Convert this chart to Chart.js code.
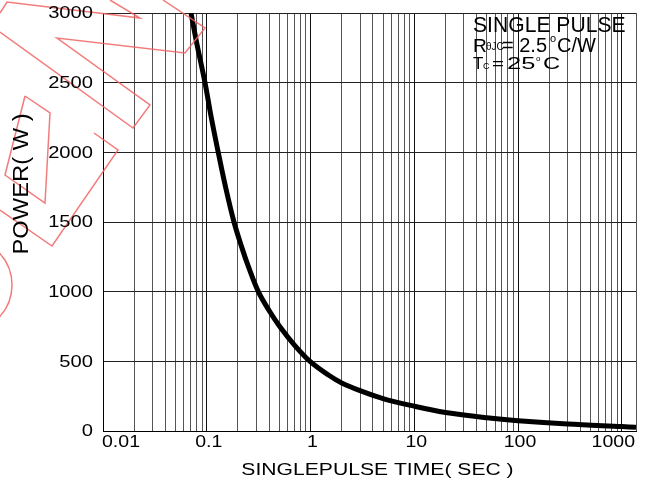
<!DOCTYPE html>
<html>
<head>
<meta charset="utf-8">
<script src="https://cdn.jsdelivr.net/npm/chart.js@4/dist/chart.umd.min.js"></script>
<style>
  html, body { margin: 0; padding: 0; background: #fff; }
  #chart { display: block; }
</style>
</head>
<body>
<canvas id="chart" width="650" height="481"></canvas>
<script>
// single pulse time (s) vs peak power (W)
const timeSec = [0.0705, 0.08, 0.0962, 0.11, 0.129, 0.15, 0.183, 0.22, 0.25, 0.314, 0.4, 0.505, 0.7, 0.989, 1.5, 2, 3, 5, 10, 20, 50, 100, 300, 1000, 1370];
const powerW  = [3000, 2785, 2500, 2258, 2000, 1768, 1500, 1307, 1187, 1000, 863, 750, 617, 500, 400, 345, 290, 233, 178, 133, 95, 74, 50, 32, 27];

const xMin = 0.01, xMax = 1370;
const xTickValues = [0.01, 0.1, 1, 10, 100, 1000];
const xTickLabels = ["0.01", "0.1", "1", "10", "100", "1000"];
const yTickValues = [0, 500, 1000, 1500, 2000, 2500, 3000];
const yTickLabels = ["0", "500", "1000", "1500", "2000", "2500", "3000"];

const FONT = '"Liberation Sans", Arial, sans-serif';

// log grid: 1..9 in every decade, plus the right edge
function logGrid() {
  const t = [];
  for (let e = -2; e <= 3; e++) {
    for (let m = 1; m <= 9; m++) {
      const v = +(m * Math.pow(10, e)).toPrecision(3);
      if (v <= xMax) t.push(v);
    }
  }
  t.push(xMax);
  return t;
}

function txt(ctx, s, x, y, size, align, sx, base) {
  ctx.save();
  ctx.translate(x, y);
  ctx.scale(sx, 1);
  ctx.font = size + "px " + FONT;
  ctx.textAlign = align;
  ctx.textBaseline = base || "middle";
  ctx.fillStyle = "#000";
  ctx.fillText(s, 0, 0);
  ctx.restore();
}

// faint logo watermark in the top left corner
function drawWatermark(ctx) {
  ctx.save();
  ctx.strokeStyle = "rgba(240,100,100,0.85)";
  ctx.lineWidth = 1.5;
  const paths = [
    [[0,13],[7,2],[140,18],[110,0]],
    [[163,0],[205,28],[185,53],[57,38],[150,105],[133,128],[0,32]],
    [[25,96],[50,113],[45,203],[5,175],[25,96]],
    [[94,133],[118,150],[52,246],[0,210]]
  ];
  paths.forEach(p => {
    ctx.beginPath();
    ctx.moveTo(p[0][0], p[0][1]);
    for (let i = 1; i < p.length; i++) ctx.lineTo(p[i][0], p[i][1]);
    ctx.stroke();
  });
  ctx.beginPath();
  ctx.arc(-35, 285, 47, -Math.PI / 2, Math.PI / 2);
  ctx.stroke();
  ctx.restore();
}

const labelsPlugin = {
  id: "labels",
  afterDraw(chart) {
    const ctx = chart.ctx;
    const xs = chart.scales.x, ys = chart.scales.y;
    const area = chart.chartArea;

    drawWatermark(ctx);

    yTickValues.forEach((v, i) => {
      txt(ctx, yTickLabels[i], area.left - 10, ys.getPixelForValue(v) + 1, 16, "right", 1.26);
    });
    const last = xTickValues.length - 1;
    xTickValues.forEach((v, i) => {
      const px = xs.getPixelForValue(v);
      if (i === 0) txt(ctx, xTickLabels[i], area.left - 1, 443, 16, "left", 1.22);
      else if (i === last) txt(ctx, xTickLabels[i], area.right - 1, 443, 16, "right", 1.22);
      else txt(ctx, xTickLabels[i], px + 2, 443, 16, "center", 1.22);
    });

    txt(ctx, "SINGLEPULSE TIME( SEC )", (area.left + area.right) / 2 + 8, 471, 16, "center", 1.32);

    ctx.save();
    ctx.translate(22, 184);
    ctx.rotate(-Math.PI / 2);
    txt(ctx, "POWER( W )", 0, 0, 22, "center", 1.08);
    ctx.restore();

    // condition note, top right
    txt(ctx, "SINGLE PULSE", 473, 32, 22, "left", 0.96, "alphabetic");
    txt(ctx, "R", 473, 51.5, 19, "left", 1, "alphabetic");
    txt(ctx, "θJC", 486, 50, 10, "left", 1, "alphabetic");
    txt(ctx, "= 2.5", 502, 51.5, 20, "left", 1, "alphabetic");
    txt(ctx, "o", 550, 42, 11, "left", 1, "alphabetic");
    txt(ctx, "C/W", 557, 51.5, 20, "left", 1, "alphabetic");
    txt(ctx, "T", 473, 69, 17, "left", 1, "alphabetic");
    txt(ctx, "C", 483, 69, 9, "left", 1, "alphabetic");
    txt(ctx, "=", 492, 69, 17, "left", 1.2, "alphabetic");
    txt(ctx, "25", 507, 69, 17, "left", 1.5, "alphabetic");
    txt(ctx, "o", 536, 61, 8, "left", 1, "alphabetic");
    txt(ctx, "C", 543, 69, 17, "left", 1.4, "alphabetic");
  }
};

new Chart(document.getElementById("chart"), {
  type: "line",
  data: {
    datasets: [{
      data: timeSec.map((t, i) => ({ x: t, y: powerW[i] })),
      borderColor: "#000",
      borderWidth: 5,
      pointRadius: 0,
      fill: false,
      tension: 0.35
    }]
  },
  options: {
    responsive: false,
    animation: false,
    layout: { padding: { top: 13, right: 14, left: 0, bottom: 0 } },
    plugins: { legend: { display: false }, tooltip: { enabled: false } },
    scales: {
      x: {
        type: "logarithmic",
        min: xMin,
        max: xMax,
        afterBuildTicks(s) { s.ticks = logGrid().map(v => ({ value: v })); },
        afterFit(s) { s.height = 50; },
        ticks: { display: false },
        grid: {
          drawTicks: false,
          color: c => {
            const v = c.tick && c.tick.value;
            const e = Math.log10(v);
            return Math.abs(e - Math.round(e)) < 1e-6 ? "#111" : "#555";
          },
          lineWidth: 1
        },
        border: { color: "#000", width: 1 }
      },
      y: {
        min: 0,
        max: 3000,
        afterBuildTicks(s) { s.ticks = yTickValues.map(v => ({ value: v })); },
        afterFit(s) { s.width = 103; },
        ticks: { display: false },
        grid: { drawTicks: false, color: "#222", lineWidth: 1 },
        border: { color: "#000", width: 1 }
      }
    }
  },
  plugins: [labelsPlugin]
});
</script>
</body>
</html>
